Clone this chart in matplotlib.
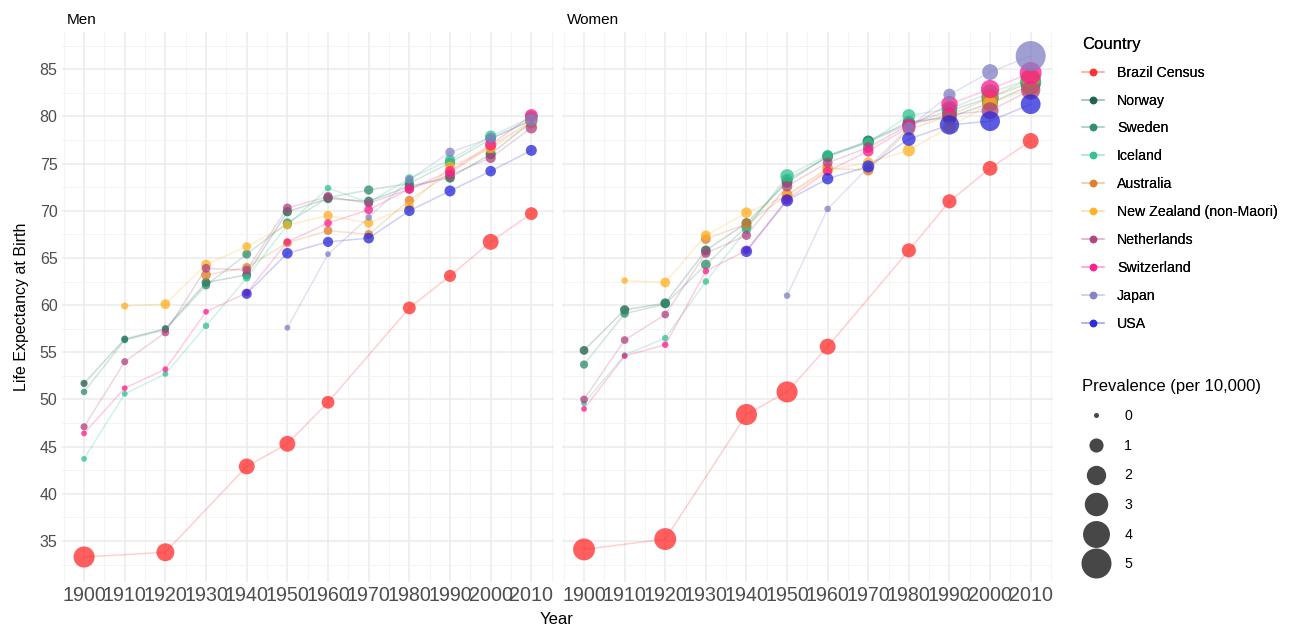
import numpy as np
import matplotlib
matplotlib.use("Agg")
import matplotlib.pyplot as plt
from matplotlib.lines import Line2D
from matplotlib.ticker import MultipleLocator

plt.rcParams["font.family"] = ["Liberation Sans", "DejaVu Sans"]

nan = np.nan
years = [1900, 1910, 1920, 1930, 1940, 1950, 1960, 1970, 1980, 1990, 2000, 2010]
countries = ["Brazil Census", "Norway", "Sweden", "Iceland", "Australia",
             "New Zealand (non-Maori)", "Netherlands", "Switzerland", "Japan", "USA"]
colors = ["#FF2A2A", "#1B5E45", "#2A8C6A", "#2EC28E", "#E07B28",
          "#FFB020", "#B0407E", "#FF1A8C", "#7F7FC4", "#2626D9"]

# life expectancy, men
brazil_m = [33.3, nan, 33.8, nan, 42.9, 45.3, 49.7, nan, 59.7, 63.1, 66.7, 69.7]
norway_m = [51.7, 56.4, 57.5, 62.4, 63.2, 69.9, 71.3, 71.0, 72.6, 73.5, 76.0, 79.4]
sweden_m = [50.8, 56.3, 57.4, 62.1, 65.4, 68.7, 71.4, 72.2, 72.9, 75.1, 77.6, 79.6]
iceland_m = [43.7, 50.6, 52.7, 57.8, 62.9, 68.5, 72.4, 70.9, 73.4, 75.4, 77.9, 79.9]
australia_m = [nan, nan, nan, 63.2, 64.0, 66.6, 67.9, 67.5, 71.1, 74.0, 76.8, 79.5]
nz_m = [nan, 59.9, 60.1, 64.3, 66.2, 68.5, 69.5, 68.7, 70.5, 74.7, 76.6, 79.3]
netherlands_m = [47.1, 54.0, 57.1, 63.9, 63.7, 70.3, 71.5, 70.8, 72.3, 73.8, 75.6, 78.8]
switzerland_m = [46.4, 51.2, 53.2, 59.3, 61.3, 66.7, 68.7, 70.1, 72.3, 74.2, 77.0, 80.1]
japan_m = [nan, nan, nan, nan, nan, 57.6, 65.4, 69.3, 73.3, 76.2, 77.7, 79.6]
usa_m = [nan, nan, nan, nan, 61.2, 65.5, 66.7, 67.1, 70.0, 72.1, 74.2, 76.4]

# life expectancy, women
brazil_w = [34.1, nan, 35.2, nan, 48.4, 50.8, 55.6, nan, 65.8, 71.0, 74.5, 77.4]
norway_w = [55.2, 59.5, 60.2, 65.8, 68.7, 73.0, 75.8, 77.4, 79.4, 79.9, 81.4, 83.3]
sweden_w = [53.7, 59.1, 60.1, 64.3, 68.3, 73.3, 75.7, 77.3, 79.2, 80.6, 82.0, 83.6]
iceland_w = [49.6, 54.7, 56.5, 62.5, 68.0, 73.7, 75.9, 77.2, 80.1, 80.8, 82.5, 84.0]
australia_w = [nan, nan, nan, 67.0, 68.6, 71.7, 74.5, 74.3, 78.6, 80.1, 82.0, 84.0]
nz_w = [nan, 62.6, 62.4, 67.4, 69.8, 71.6, 74.3, 75.1, 76.4, 78.9, 81.3, 83.0]
netherlands_w = [50.0, 56.3, 59.0, 65.5, 67.4, 72.6, 75.1, 76.7, 79.1, 80.2, 80.6, 82.8]
switzerland_w = [49.0, 54.6, 55.8, 63.6, 65.8, 71.2, 74.2, 76.3, 78.9, 81.3, 82.9, 84.6]
japan_w = [nan, nan, nan, nan, nan, 61.0, 70.2, 74.6, 78.8, 82.3, 84.7, 86.4]
usa_w = [nan, nan, nan, nan, 65.7, 71.1, 73.4, 74.7, 77.6, 79.1, 79.5, 81.3]

# prevalence (per 10,000), men
brazil_m_p = [2.4, nan, 1.7, nan, 1.3, 1.3, 0.8, nan, 0.8, 0.7, 1.3, 0.8]
norway_m_p = [0.15, 0.14, 0.15, 0.3, 0.3, 0.35, 0.35, 0.35, 0.35, 0.4, 0.45, 0.6]
sweden_m_p = [0.1, 0.1, 0.1, 0.25, 0.3, 0.35, 0.3, 0.35, 0.35, 0.45, 0.5, 0.7]
iceland_m_p = [0.05, 0.05, 0.05, 0.1, 0.2, 0.3, 0.1, 0.3, 0.3, 0.45, 0.6, 0.8]
australia_m_p = [nan, nan, nan, 0.4, 0.3, 0.3, 0.3, 0.3, 0.35, 0.4, 0.45, 0.6]
nz_m_p = [nan, 0.15, 0.4, 0.4, 0.3, 0.3, 0.35, 0.35, 0.35, 0.4, 0.45, 0.6]
netherlands_m_p = [0.15, 0.15, 0.2, 0.3, 0.3, 0.3, 0.35, 0.3, 0.35, 0.4, 0.45, 0.6]
switzerland_m_p = [0.05, 0.05, 0.05, 0.05, 0.15, 0.15, 0.2, 0.3, 0.35, 0.45, 0.6, 0.8]
japan_m_p = [nan, nan, nan, nan, nan, 0.05, 0.05, 0.1, 0.2, 0.35, 0.45, 0.7]
usa_m_p = [nan, nan, nan, nan, 0.45, 0.5, 0.45, 0.5, 0.5, 0.55, 0.5, 0.55]

# prevalence (per 10,000), women
brazil_w_p = [2.6, nan, 2.6, nan, 2.4, 2.4, 1.3, nan, 1.0, 1.0, 1.1, 1.3]
norway_w_p = [0.3, 0.35, 0.4, 0.4, 0.4, 0.5, 0.5, 0.55, 0.7, 1.0, 1.3, 1.8]
sweden_w_p = [0.25, 0.25, 0.25, 0.4, 0.45, 0.6, 0.5, 0.6, 0.8, 1.2, 1.6, 2.4]
iceland_w_p = [0.05, 0.05, 0.1, 0.1, 0.3, 0.9, 0.5, 0.5, 0.8, 1.3, 1.5, 2.2]
australia_w_p = [nan, nan, nan, 0.4, 0.4, 0.5, 0.5, 0.5, 0.7, 1.0, 1.3, 1.8]
nz_w_p = [nan, 0.1, 0.4, 0.4, 0.5, 0.5, 0.5, 0.5, 0.7, 0.9, 1.2, 1.6]
netherlands_w_p = [0.2, 0.2, 0.2, 0.35, 0.35, 0.5, 0.4, 0.5, 0.8, 1.1, 1.5, 2.0]
switzerland_w_p = [0.05, 0.05, 0.1, 0.1, 0.2, 0.4, 0.35, 0.5, 0.9, 1.4, 1.8, 2.6]
japan_w_p = [nan, nan, nan, nan, nan, 0.1, 0.1, 0.3, 0.6, 0.7, 1.3, 5.0]
usa_w_p = [nan, nan, nan, nan, 0.6, 0.7, 0.6, 0.7, 0.9, 2.0, 2.1, 2.1]

men = [brazil_m, norway_m, sweden_m, iceland_m, australia_m,
       nz_m, netherlands_m, switzerland_m, japan_m, usa_m]
women = [brazil_w, norway_w, sweden_w, iceland_w, australia_w,
         nz_w, netherlands_w, switzerland_w, japan_w, usa_w]
men_p = [brazil_m_p, norway_m_p, sweden_m_p, iceland_m_p, australia_m_p,
         nz_m_p, netherlands_m_p, switzerland_m_p, japan_m_p, usa_m_p]
women_p = [brazil_w_p, norway_w_p, sweden_w_p, iceland_w_p, australia_w_p,
           nz_w_p, netherlands_w_p, switzerland_w_p, japan_w_p, usa_w_p]

size_breaks = [0, 1, 2, 3, 4, 5]
PX = 0.72  # points per pixel at dpi 100


def diam_px(p):
    # ggplot-like area scaling: 5 px at 0, 30 px at 5
    return np.sqrt(25 + 175 * np.asarray(p, dtype=float))


def draw_panel(ax, series, prevs, title):
    yrs = np.array(years)
    for vals, prev, col in zip(series, prevs, colors):
        v = np.array(vals, dtype=float)
        p = np.array(prev, dtype=float)
        ok = ~np.isnan(v)
        ax.plot(yrs[ok], v[ok], color=col, alpha=0.22, lw=1.1, zorder=2)
        ax.scatter(yrs[ok], v[ok], s=(PX * diam_px(p[ok])) ** 2, color=col,
                   alpha=0.75, edgecolors="none", zorder=3)
    ax.set_xlim(1894.5, 2015.5)
    ax.set_ylim(30.65, 88.95)
    ax.set_xticks(years)
    ax.set_xticklabels([str(y) for y in years], fontsize=14.2, color="#4d4d4d")
    ax.xaxis.set_minor_locator(MultipleLocator(5))
    ax.yaxis.set_major_locator(MultipleLocator(5))
    ax.yaxis.set_minor_locator(MultipleLocator(2.5))
    ax.grid(which="major", color="#ebebeb", lw=1.1)
    ax.grid(which="minor", color="#f2f2f2", lw=0.6)
    ax.set_axisbelow(True)
    for s in ax.spines.values():
        s.set_visible(False)
    ax.tick_params(which="both", length=0, pad=3)
    ax.tick_params(axis="y", labelsize=11.5, labelcolor="#4d4d4d")
    ax.set_title(title, loc="left", fontsize=11, pad=6, x=0.01)


fig = plt.figure(figsize=(12.95, 6.31), dpi=100)
ax_m = fig.add_axes([61.7 / 1295, 1 - 582 / 631, 492 / 1295, 550 / 631])
ax_w = fig.add_axes([561.7 / 1295, 1 - 582 / 631, 491.3 / 1295, 550 / 631])

draw_panel(ax_m, men, men_p, "Men")
draw_panel(ax_w, women, women_p, "Women")
ax_w.tick_params(axis="y", labelleft=False)

ax_m.set_ylabel("Life Expectancy at Birth", fontsize=11.5, labelpad=8)
fig.text(557 / 1295, 1 - 620 / 631, "Year", ha="center", va="center", fontsize=12)

country_handles = [
    (Line2D([], [], color=c, alpha=0.25, lw=1.1),
     Line2D([], [], ls="", marker="o", markersize=5.5, color=c, alpha=0.8, markeredgewidth=0))
    for c in colors
]
leg1 = fig.legend(country_handles, countries, loc="upper left",
                  bbox_to_anchor=(1069 / 1295, 1 - 24 / 631), frameon=False,
                  title="Country", title_fontsize=12, fontsize=10.2,
                  labelspacing=0.98, handlelength=1.6, handletextpad=0.9,
                  alignment="left")

size_handles = [
    Line2D([], [], ls="", marker="o", markersize=PX * diam_px(b),
           color="#333333", alpha=0.9, markeredgewidth=0)
    for b in size_breaks
]
leg2 = fig.legend(size_handles, [str(b) for b in size_breaks], loc="upper left",
                  bbox_to_anchor=(1069 / 1295, 1 - 366 / 631), frameon=False,
                  title="Prevalence (per 10,000)", title_fontsize=12, fontsize=10.2,
                  labelspacing=1.1, handlelength=2.0, handletextpad=1.0,
                  alignment="left")
fig.add_artist(leg1)

fig.savefig("out.png", dpi=100)
